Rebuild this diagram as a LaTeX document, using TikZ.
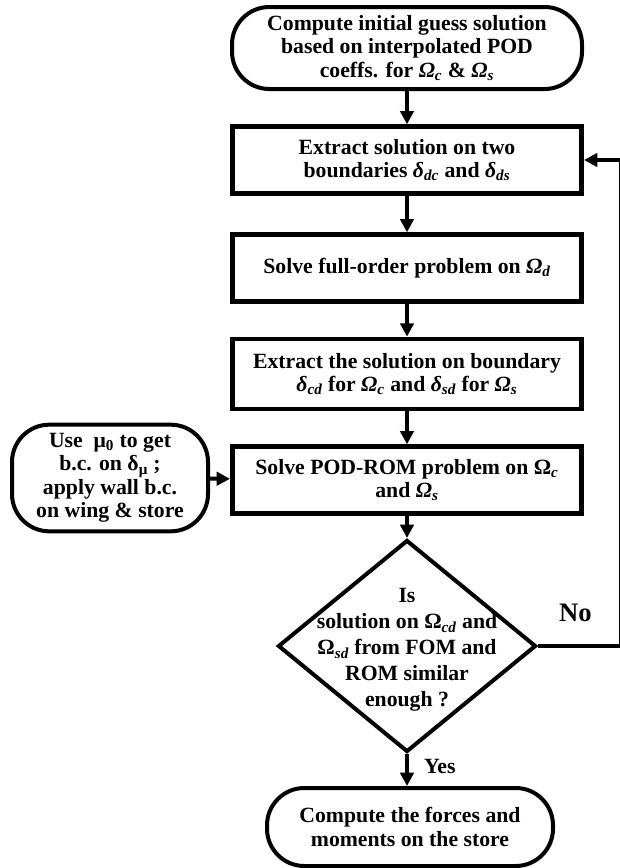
\documentclass[tikz,border=0pt]{standalone}
\usepackage{fontspec}
\setmainfont{Liberation Serif}
\usepackage{tikz}
\usetikzlibrary{shapes.geometric,arrows.meta}

\newcommand{\OmI}[1]{{\itshape Ω}\textsubscript{\itshape #1}}
\newcommand{\dl}[1]{{\itshape δ}\textsubscript{\itshape #1}}

\tikzset{
  txt/.style={font=\bfseries\fontsize{16.3}{17.6}\selectfont, align=center},
  proc/.style={txt, draw, rectangle, line width=3.5pt, minimum width=262pt,
    minimum height=50pt, inner sep=1pt},
  term/.style={txt, draw, rectangle, rounded corners=28pt, line width=3pt,
    inner sep=0pt},
  decision/.style={draw, diamond, line width=3pt, minimum width=193.5pt,
    minimum height=159pt, inner sep=0pt},
  flow/.style={line width=3pt, -{Triangle[length=10pt,width=10pt]}},
}

\begin{document}
\begin{tikzpicture}[x=0.75pt, y=-0.75pt]
    \useasboundingbox (0,0) rectangle (619,868);

    % main column
    \node[term, minimum width=262.5pt, minimum height=61.5pt] (start) at (407,48)
      {Compute initial guess solution\\ based on interpolated POD\\ coeffs. for \OmI{c} \& \OmI{s}};
    \node[proc] (extract) at (407,160)
      {Extract solution on two\\ boundaries \dl{dc} and \dl{ds}};
    \node[proc] (fullorder) at (407,268)
      {Solve full-order problem on \OmI{d}};
    \node[proc, minimum height=52.5pt] (boundary) at (407,374)
      {Extract the solution on boundary\\ \dl{cd} for \OmI{c} and \dl{sd} for \OmI{s}};
    \node[proc] (podrom) at (407,480)
      {Solve POD-ROM problem on Ω\textsubscript{\itshape c}\\ and \OmI{s}};
    \node[decision] (check) at (407,646) {};
    \node[txt, font=\bfseries\fontsize{16.3}{19.5}\selectfont] (checktext) at (407,650)
      {Is\\ solution on Ω\textsubscript{\itshape cd} and\\ Ω\textsubscript{\itshape sd} from FOM and\\ ROM similar\\ enough ?};
    \node[term, minimum width=214.5pt, minimum height=58.5pt] (forces) at (410,827)
      {Compute the forces and\\ moments on the store};

    % side input
    \node[term, minimum width=147pt, minimum height=80pt] (bcinput) at (110,478)
      {Use~ μ\textsubscript{0} to get\\ b.c. on δ\textsubscript{μ} ;\\ apply wall b.c.\\ on wing \& store};

    % connectors
    \draw[flow] (start) -- (extract);
    \draw[flow] (extract) -- (fullorder);
    \draw[flow] (fullorder) -- (boundary);
    \draw[flow] (boundary) -- (podrom);
    \draw[flow] (podrom) -- (check);
    \draw[flow] (check.south) -- node[txt, right=8pt, pos=0.4] {Yes} (check.south |- forces.north);
    \draw[flow] (bcinput) -- (podrom);

    % loop back
    \coordinate (loopcorner) at (621,646);
    \draw[flow] (check.east) -- node[above=13pt, pos=0.45, font=\bfseries\fontsize{20}{24}\selectfont] {No} (loopcorner)
      |- (extract.east);
\end{tikzpicture}
\end{document}
